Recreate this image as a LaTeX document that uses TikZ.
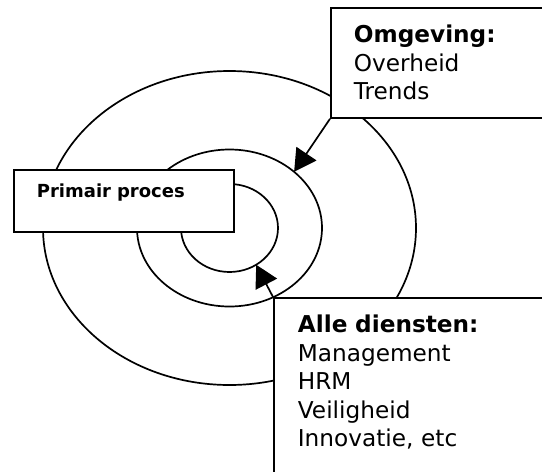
\documentclass[tikz,border=0pt]{standalone}
\usepackage{fontspec}
\setmainfont{DejaVu Sans}
\usetikzlibrary{arrows.meta,shapes.geometric}

\begin{document}
\begin{tikzpicture}[
    x=0.5pt, y=-0.5pt,
    ring/.style={draw, ellipse, line width=0.85pt, inner sep=0pt, outer sep=0pt},
    infobox/.style={draw, fill=white, line width=0.9pt, anchor=north west, align=left,
                    inner ysep=0pt, inner xsep=11.5pt, text width=#1},
    boxtext/.style={font=\fontsize{11.6}{14.2}\selectfont, text height=17.5pt},
    arrow/.style={-{Triangle[length=11pt, width=12pt]}, line width=0.85pt}
  ]
    \useasboundingbox (0,0) rectangle (542,472);
    \clip (0,0) rectangle (542,472);
    % rings around the primary process
    \node[ring, minimum width=186.5pt, minimum height=157pt] (outer) at (229.5,228) {};
    \node[ring, minimum width=92.5pt, minimum height=78.5pt] (middle) at (229.5,228) {};
    \node[ring, minimum width=48.5pt, minimum height=44pt] (inner) at (229.5,228) {};
    % boxes
    \node[infobox=87pt, font=\bfseries\fontsize{9}{11}\selectfont,
          text height=14pt, text depth=17pt] (primair) at (13,169) {Primair proces};
    \node[infobox=92pt, boxtext, text depth=37.5pt] (omgeving) at (330,7)
      {\textbf{Omgeving:}\\Overheid\\Trends};
    \node[infobox=119.5pt, inner xsep=12pt, boxtext, text depth=79pt] (alle) at (273,297)
      {\textbf{Alle diensten:}\\Management\\HRM\\Veiligheid\\Innovatie, etc};
    % arrows
    \draw[arrow] (omgeving.south west) -- (middle.41);
    \draw[arrow] (alle.north west) -- (inner.-54);
\end{tikzpicture}
\end{document}
